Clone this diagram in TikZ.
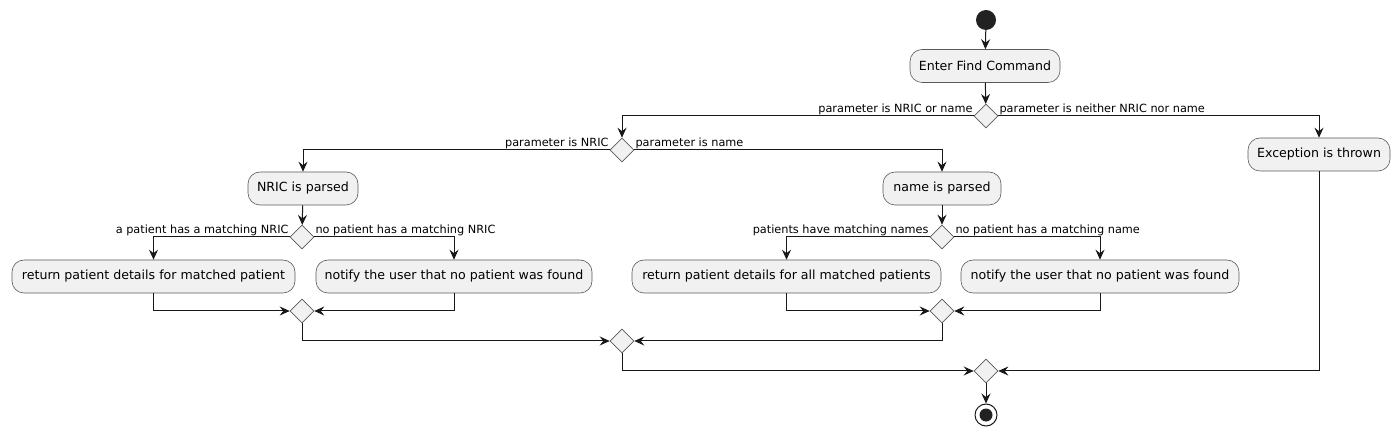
\documentclass[tikz,border=0pt]{standalone}
\usepackage{fontspec}
\setmainfont{DejaVu Sans}
\usetikzlibrary{arrows.meta,shapes.geometric}
\definecolor{ln}{RGB}{24,24,24}
\definecolor{bd}{RGB}{90,90,90}
\definecolor{bx}{RGB}{241,241,241}
\definecolor{st}{RGB}{34,34,34}
\begin{document}
\begin{tikzpicture}[x=1pt,y=-1pt,
  act/.style={draw=bd, line width=0.6pt, fill=bx, rounded corners=12pt, minimum height=33pt, inner sep=0pt, font=\fontsize{12.6}{14}\selectfont},
  dia/.style={draw=bd, line width=0.6pt, fill=bx, diamond, minimum width=24pt, minimum height=24pt, inner sep=0pt},
  arr/.style={draw=ln, line width=1pt, -{Stealth[length=10pt,width=9pt,inset=3.5pt]}},
  lbl/.style={font=\fontsize{11.3}{13}\selectfont, inner sep=1pt, text=black}]
\useasboundingbox (0,0) rectangle (1400,435);
% nodes
\node[circle, fill=st, minimum size=20pt, inner sep=0pt] (start) at (986,20) {};
\node[act, minimum width=150pt] (enter) at (985,66) {Enter Find Command};
\node[dia] (d1) at (986,116) {};
\node[dia] (d2) at (622,150) {};
\node[act, minimum width=142pt] (exc) at (1319,154.5) {Exception is thrown};
\node[act, minimum width=110pt] (nricp) at (303,188.5) {NRIC is parsed};
\node[act, minimum width=118pt] (namep) at (942,188.5) {name is parsed};
\node[dia] (d3) at (302,237) {};
\node[dia] (d4) at (942,237) {};
\node[act, minimum width=283pt] (ret1) at (153.5,276.5) {return patient details for matched patient};
\node[act, minimum width=276pt] (not1) at (454,276.5) {notify the user that no patient was found};
\node[act, minimum width=309pt] (ret2) at (786.5,276.5) {return patient details for all matched patients};
\node[act, minimum width=278pt] (not2) at (1100,276.5) {notify the user that no patient was found};
\node[dia] (m1) at (302,311) {};
\node[dia] (m3) at (942,311) {};
\node[dia] (m2) at (622,341) {};
\node[dia] (m4) at (986,371) {};
\node[circle, draw=ln, line width=1pt, fill=white, minimum size=22pt, inner sep=0pt] (end) at (986,415) {};
\fill[st] (end.center) circle (6.5pt);
% connectors
\draw[arr] (start) -- (enter);
\draw[arr] (enter) -- (d1);
\draw[arr] (d1.west) -| (d2.north);
\draw[arr] (d1.east) -| (exc.north);
\node[lbl, anchor=south east] (l1) at (d1.west) {parameter is NRIC or name};
\node[lbl, anchor=south west] (l2) at (d1.east) {parameter is neither NRIC nor name};
\draw[arr] (d2.west) -| (nricp.north);
\draw[arr] (d2.east) -| (namep.north);
\node[lbl, anchor=south east] (l3) at (d2.west) {parameter is NRIC};
\node[lbl, anchor=south west] (l4) at (d2.east) {parameter is name};
\draw[arr] (nricp) -- (d3);
\draw[arr] (namep) -- (d4);
\draw[arr] (d3.west) -| (ret1.north);
\draw[arr] (d3.east) -| (not1.north);
\node[lbl, anchor=south east] (l5) at (d3.west) {a patient has a matching NRIC};
\node[lbl, anchor=south west] (l6) at (d3.east) {no patient has a matching NRIC};
\draw[arr] (d4.west) -| (ret2.north);
\draw[arr] (d4.east) -| (not2.north);
\node[lbl, anchor=south east] (l7) at (d4.west) {patients have matching names};
\node[lbl, anchor=south west] (l8) at (d4.east) {no patient has a matching name};
\draw[arr] (ret1.south) |- (m1.west);
\draw[arr] (not1.south) |- (m1.east);
\draw[arr] (ret2.south) |- (m3.west);
\draw[arr] (not2.south) |- (m3.east);
\draw[arr] (m1.south) |- (m2.west);
\draw[arr] (m3.south) |- (m2.east);
\draw[arr] (m2.south) |- (m4.west);
\draw[arr] (exc.south) |- (m4.east);
\draw[arr] (m4) -- (end);
\end{tikzpicture}
\end{document}
